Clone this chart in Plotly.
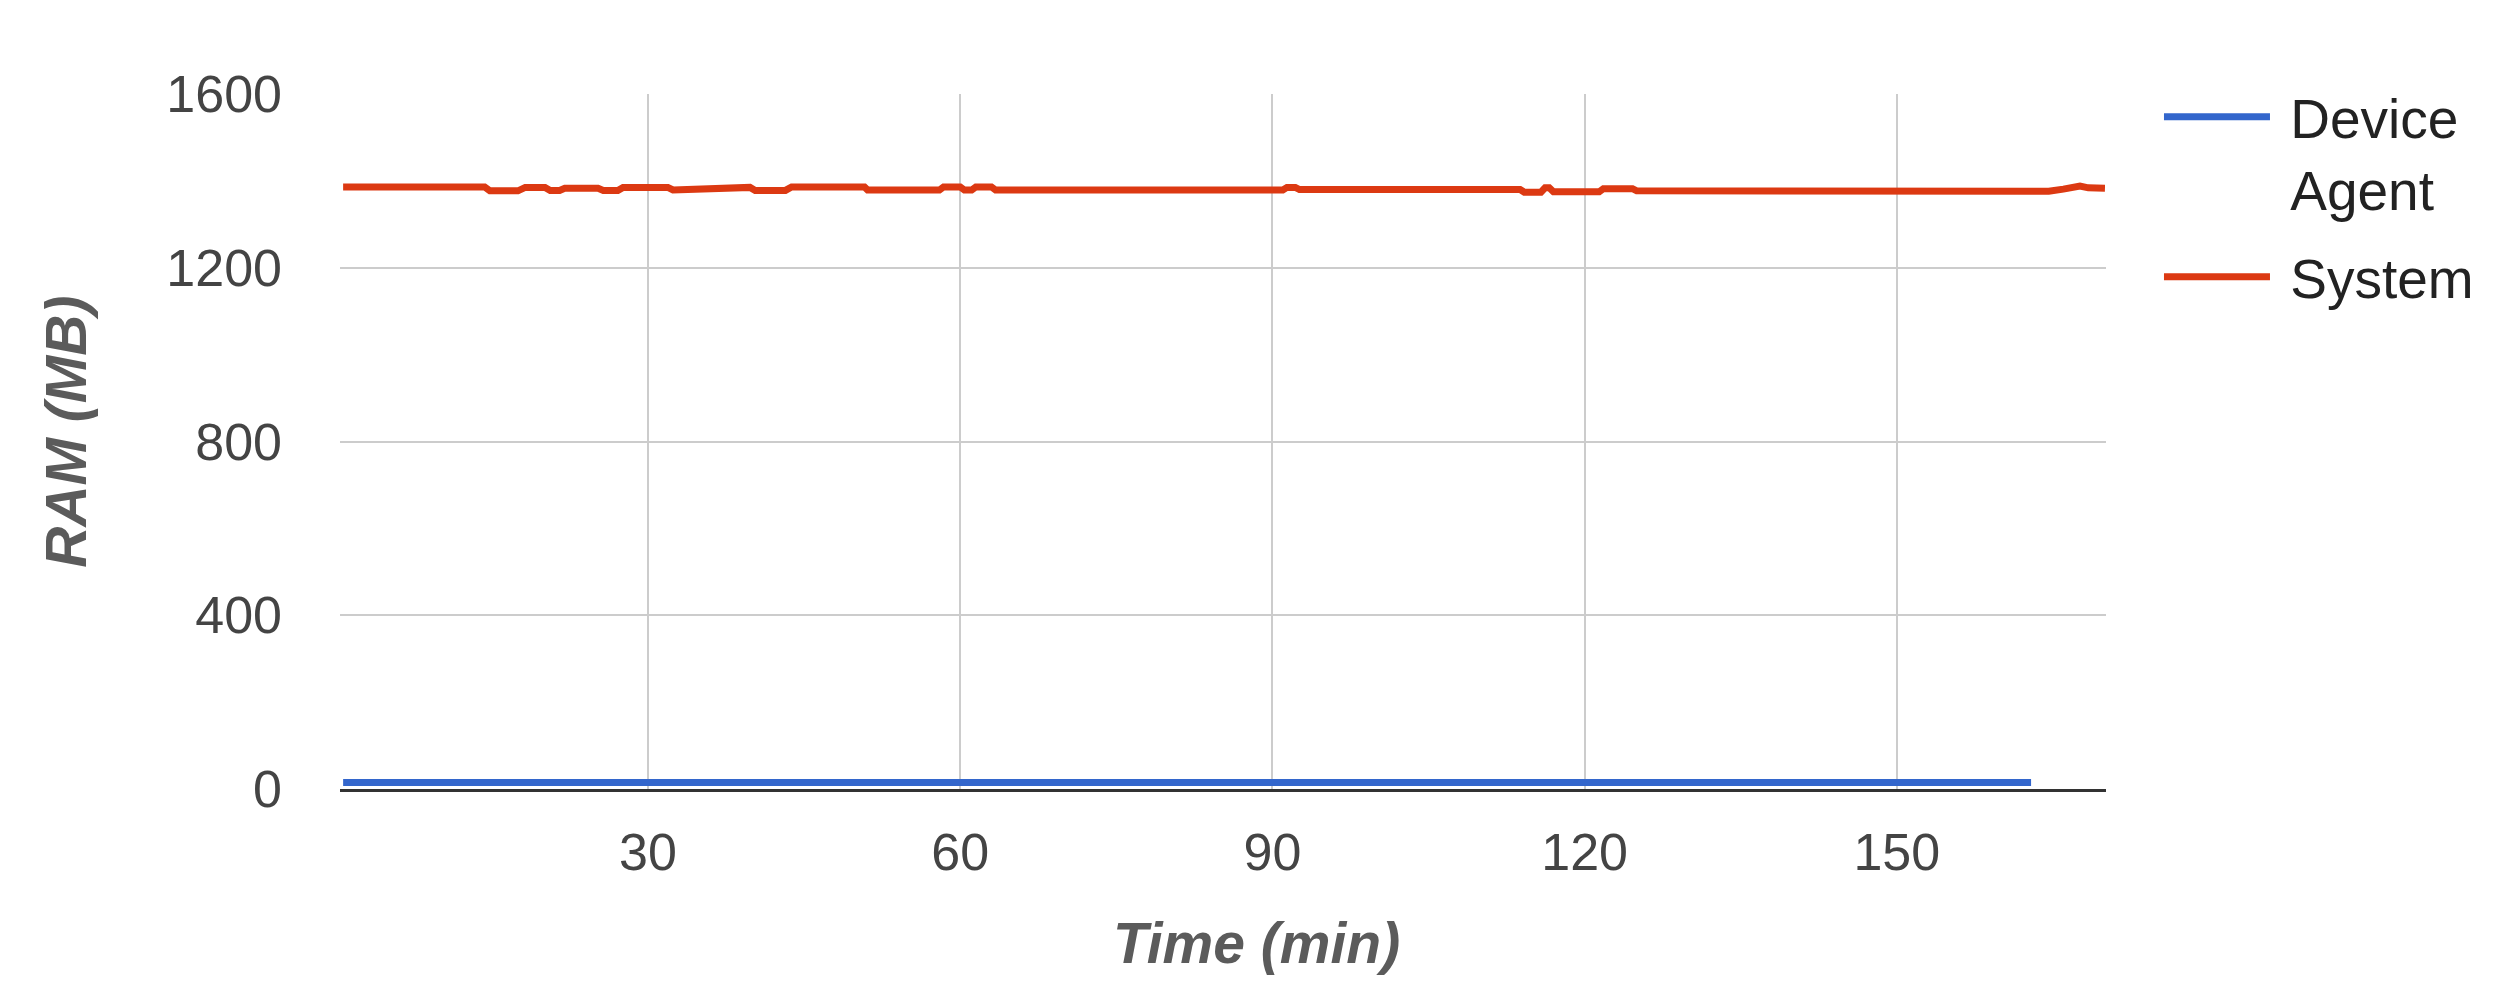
import plotly.graph_objects as go

# ---- data ----
system_t = [0.7, 14.3, 14.8, 17.5, 18.2, 20.1, 20.6, 21.5, 22.0, 25.2, 25.7, 27.1, 27.6, 31.9,
            32.4, 35.0, 35.5, 39.8, 40.3, 43.2, 43.8, 50.8, 51.1, 58.0, 58.4, 60.0, 60.4, 61.1,
            61.5, 63.0, 63.4, 91.0, 91.4, 92.2, 92.6, 113.8, 114.2, 115.8, 116.2, 116.6, 117.0,
            121.4, 121.8, 124.6, 125.0, 129.4, 132.6, 133.0, 133.4, 139.3, 139.7, 140.1, 141.9,
            146.7, 147.1, 155.5, 155.9, 164.2, 164.6, 166.0, 167.0, 167.6, 168.4, 170.0]
system_v = [1386, 1386, 1377, 1377, 1385, 1385, 1378, 1378, 1383, 1383, 1378, 1378, 1385, 1385,
            1379, 1381, 1385, 1385, 1378, 1378, 1386, 1386, 1379, 1379, 1386, 1386, 1379, 1379,
            1386, 1386, 1379, 1379, 1385, 1385, 1380, 1380, 1374, 1374, 1384, 1384, 1375,
            1375, 1382, 1382, 1377, 1377, 1377, 1373, 1377, 1377, 1373, 1377, 1373,
            1373, 1377, 1377, 1374, 1374, 1376, 1381, 1386, 1388, 1384, 1383]

agent_t = [0.7, 40.0, 80.0, 120.0, 162.9]
agent_v = [15, 15, 15, 15, 15]

x_ticks = [30, 60, 90, 120, 150]
y_ticks = [0, 400, 800, 1200, 1600]

x_title = "Time (min)"
y_title = "RAM (MB)"

BLUE = "#3366cc"
RED = "#dc3912"
FONT = "Liberation Sans, Arial, sans-serif"
NB = "\u00a0"

fig = go.Figure()
fig.add_trace(go.Scatter(x=agent_t, y=agent_v, mode="lines", name=NB + "Device<br>" + NB + "Agent",
                         line=dict(color=BLUE, width=7), legendgroup="a"))
fig.add_trace(go.Scatter(x=system_t, y=system_v, mode="lines", name=NB + "System",
                         line=dict(color=RED, width=7), legendgroup="b"))

title_font = dict(family=FONT, size=57, color="#5b5b5b", weight="bold", style="italic")

fig.update_layout(
    width=2489, height=979,
    margin=dict(l=332, r=391, t=86, b=198),
    paper_bgcolor="white", plot_bgcolor="white",
    font=dict(family=FONT, size=52, color="#444444"),
    legend=dict(x=1.030, xanchor="left", y=1.028, yanchor="top", xref="paper", yref="paper",
                font=dict(family=FONT, size=55, color="#222222"),
                itemwidth=106, valign="top", tracegroupgap=14,
                bgcolor="rgba(0,0,0,0)"),
    xaxis=dict(
        range=[0.4, 170.1], tickmode="array", tickvals=x_ticks,
        showgrid=True, gridcolor="#cccccc", gridwidth=2,
        showline=True, linecolor="#333333", linewidth=3,
        zeroline=False, ticks="", ticklabelstandoff=16, automargin=False,
        tickfont=dict(family=FONT, size=52, color="#444444"),
    ),
    yaxis=dict(
        range=[0, 1600], tickmode="array", tickvals=y_ticks,
        showgrid=True, gridcolor="#cccccc", gridwidth=2,
        showline=False, zeroline=False, ticks="", ticklabelstandoff=57, automargin=False,
        tickfont=dict(family=FONT, size=52, color="#444444"),
    ),
    annotations=[
        dict(text=x_title, xref="paper", yref="paper", x=0.519, y=0, yshift=-154,
             xanchor="center", yanchor="middle", showarrow=False, font=title_font),
        dict(text=y_title, xref="paper", yref="paper", x=0, y=0.514, xshift=-274,
             xanchor="center", yanchor="middle", textangle=-90, showarrow=False, font=title_font),
    ],
)

fig.write_html("out.html")
